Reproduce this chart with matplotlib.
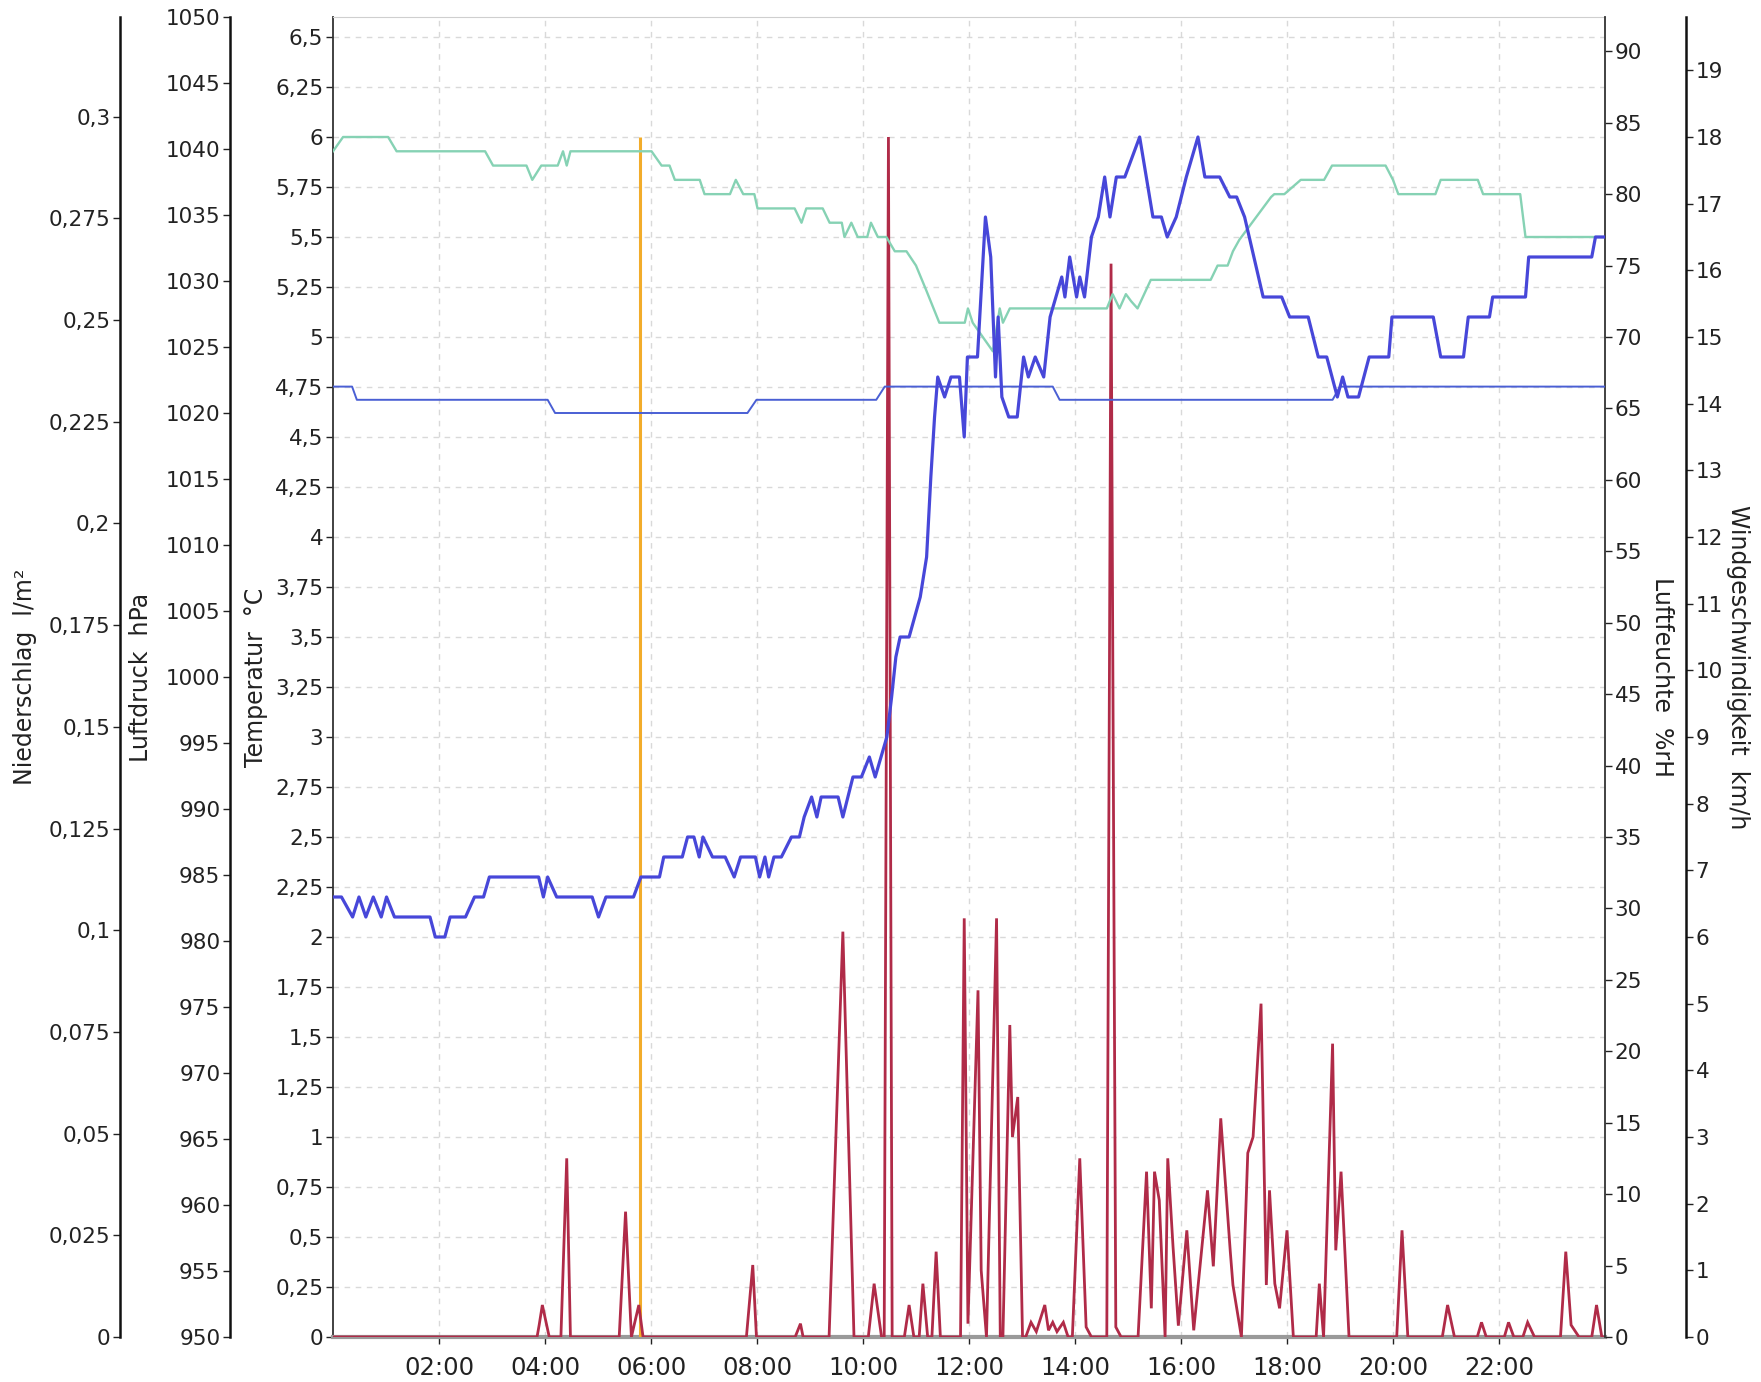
import matplotlib
matplotlib.use("Agg")
import matplotlib.pyplot as plt
from matplotlib.ticker import FixedLocator, MultipleLocator, FuncFormatter

# ---------------- data ----------------
temp_t = [0.00, 0.16, 0.37, 0.49, 0.62, 0.76, 0.91, 1.01, 1.16, 1.83, 1.93, 2.11, 2.21, 2.50,
          2.67, 2.84, 2.95, 3.88, 3.97, 4.05, 4.22, 4.89, 5.01, 5.15, 5.67, 5.81, 6.16, 6.24,
          6.59, 6.69, 6.81, 6.91, 6.98, 7.16, 7.40, 7.57, 7.69, 7.97, 8.05, 8.15, 8.22, 8.32,
          8.46, 8.65, 8.80, 8.89, 9.03, 9.13, 9.21, 9.53, 9.62, 9.81, 9.97, 10.12, 10.23, 10.45,
          10.54, 10.62, 10.70, 10.87, 11.08, 11.20, 11.28, 11.35, 11.41, 11.54, 11.66, 11.82,
          11.91, 11.97, 12.16, 12.31, 12.41, 12.50, 12.55, 12.62, 12.75, 12.91, 13.03, 13.12,
          13.25, 13.41, 13.53, 13.75, 13.81, 13.90, 14.03, 14.09, 14.18, 14.31, 14.44, 14.56,
          14.66, 14.78, 14.94, 15.22, 15.47, 15.63, 15.74, 15.91, 16.10, 16.32, 16.45, 16.73,
          16.92, 17.05, 17.20, 17.55, 17.90, 18.05, 18.40, 18.59, 18.75, 18.85, 18.95, 19.05,
          19.15, 19.35, 19.45, 19.55, 19.92, 19.98, 20.76, 20.90, 21.33, 21.42, 21.82, 21.88,
          22.50, 22.56, 23.75, 23.82, 24.00]
temp_v = [2.2, 2.2, 2.1, 2.2, 2.1, 2.2, 2.1, 2.2, 2.1, 2.1, 2.0, 2.0, 2.1, 2.1,
          2.2, 2.2, 2.3, 2.3, 2.2, 2.3, 2.2, 2.2, 2.1, 2.2, 2.2, 2.3, 2.3, 2.4,
          2.4, 2.5, 2.5, 2.4, 2.5, 2.4, 2.4, 2.3, 2.4, 2.4, 2.3, 2.4, 2.3, 2.4,
          2.4, 2.5, 2.5, 2.6, 2.7, 2.6, 2.7, 2.7, 2.6, 2.8, 2.8, 2.9, 2.8, 3.0,
          3.2, 3.4, 3.5, 3.5, 3.7, 3.9, 4.3, 4.6, 4.8, 4.7, 4.8, 4.8,
          4.5, 4.9, 4.9, 5.6, 5.4, 4.8, 5.1, 4.7, 4.6, 4.6, 4.9, 4.8,
          4.9, 4.8, 5.1, 5.3, 5.2, 5.4, 5.2, 5.3, 5.2, 5.5, 5.6, 5.8,
          5.6, 5.8, 5.8, 6.0, 5.6, 5.6, 5.5, 5.6, 5.8, 6.0, 5.8, 5.8,
          5.7, 5.7, 5.6, 5.2, 5.2, 5.1, 5.1, 4.9, 4.9, 4.8, 4.7, 4.8,
          4.7, 4.7, 4.8, 4.9, 4.9, 5.1, 5.1, 4.9, 4.9, 5.1, 5.1, 5.2,
          5.2, 5.4, 5.4, 5.5, 5.5]

pres_t = [0.00, 0.36, 0.45, 4.05, 4.19, 7.82, 7.99, 10.25, 10.41, 13.58, 13.71, 18.86, 19.00, 24.00]
pres_v = [1022, 1022, 1021, 1021, 1020, 1020, 1021, 1021, 1022, 1022, 1021, 1021, 1022, 1022]

hum_t = [0.00, 0.19, 1.04, 1.20, 2.87, 3.02, 3.65, 3.76, 3.93, 4.24, 4.34, 4.41, 4.48, 6.01,
         6.20, 6.35, 6.45, 6.92, 7.01, 7.49, 7.60, 7.74, 7.95, 8.01, 8.71, 8.84, 8.93, 9.24,
         9.37, 9.60, 9.65, 9.78, 9.90, 10.08, 10.15, 10.28, 10.44, 10.60, 10.82, 11.00, 11.19,
         11.44, 11.92, 11.98, 12.07, 12.45, 12.58, 12.64, 12.77, 14.60, 14.71, 14.84, 14.96,
         15.06, 15.18, 15.43, 16.56, 16.69, 16.88, 16.98, 17.10, 17.30, 17.50, 17.70, 17.76,
         17.95, 18.26, 18.70, 18.85, 19.86, 20.00, 20.10, 20.80, 20.90, 21.60, 21.70, 22.40,
         22.50, 24.00]
hum_v = [83, 84, 84, 83, 83, 82, 82, 81, 82, 82, 83, 82, 83, 83,
         82, 82, 81, 81, 80, 80, 81, 80, 80, 79, 79, 78, 79, 79,
         78, 78, 77, 78, 77, 77, 78, 77, 77, 76, 76, 75, 73.3,
         71, 71, 72, 71, 69, 72, 71, 72, 72, 73, 72, 73,
         72.5, 72, 74, 74, 75, 75, 76, 76.8, 77.8, 78.8, 79.8, 80,
         80, 81, 81, 82, 82, 81, 80, 80, 81, 81, 80, 80,
         77, 77]

wind_t = [0.00, 3.85, 3.89, 3.95, 4.08, 4.30, 4.41, 4.48, 5.40, 5.52, 5.63, 5.77, 5.85,
          7.80, 7.92, 7.99, 8.72, 8.82, 8.87, 9.36, 9.62, 9.83, 10.10, 10.21, 10.35,
          10.40, 10.48, 10.55, 10.78, 10.87, 10.96, 11.06, 11.13, 11.22, 11.30, 11.38, 11.46,
          11.84, 11.91, 11.98, 12.17, 12.23, 12.33, 12.52, 12.59, 12.64, 12.77, 12.82, 12.92,
          13.01, 13.07, 13.17, 13.27, 13.43, 13.50, 13.58, 13.66, 13.78, 13.87, 13.95, 14.09,
          14.21, 14.31, 14.60, 14.68, 14.77, 14.87, 15.19, 15.35, 15.44, 15.50, 15.59, 15.70,
          15.75, 15.85, 15.95, 16.11, 16.24, 16.50, 16.61, 16.75, 16.93, 16.98, 17.14, 17.26,
          17.36, 17.51, 17.61, 17.67, 17.77, 17.86, 18.00, 18.12, 18.55, 18.61, 18.69, 18.86,
          18.92, 19.02, 19.17, 20.07, 20.17, 20.28, 20.93, 21.03, 21.16, 21.59, 21.67, 21.76,
          22.10, 22.18, 22.28, 22.45, 22.54, 22.67, 23.16, 23.26, 23.36, 23.51, 23.75, 23.84,
          23.94, 24.00]
wind_v = [0, 0, 0.18, 0.48, 0, 0, 2.68, 0, 0, 1.88, 0, 0.48, 0,
          0, 1.08, 0, 0, 0.2, 0, 0, 6.08, 0, 0, 0.8, 0,
          0, 18.0, 0, 0, 0.48, 0, 0, 0.8, 0, 0, 1.28, 0,
          0, 6.28, 0.2, 5.2, 1.0, 0, 6.28, 0, 0, 4.68, 3.0, 3.6,
          0, 0, 0.22, 0.08, 0.48, 0.1, 0.22, 0.08, 0.22, 0, 0, 2.68,
          0.15, 0, 0, 16.1, 0.15, 0, 0, 2.48, 0.43, 2.48, 2.05, 0,
          2.68, 1.35, 0.17, 1.6, 0.1, 2.2, 1.06, 3.28, 1.28, 0.78, 0, 2.76,
          3.0, 5.0, 0.78, 2.2, 0.8, 0.43, 1.6, 0, 0, 0.8, 0, 4.4,
          1.3, 2.48, 0, 0, 1.6, 0, 0, 0.48, 0, 0, 0.22, 0,
          0, 0.22, 0, 0, 0.22, 0, 0, 1.28, 0.18, 0, 0, 0.48,
          0, 0]

rain_t = [5.80]
rain_v = [0.295]

x_ticks = [2, 4, 6, 8, 10, 12, 14, 16, 18, 20, 22]
x_tick_labels = ["02:00", "04:00", "06:00", "08:00", "10:00", "12:00",
                 "14:00", "16:00", "18:00", "20:00", "22:00"]
pres_range = [950, 1050]

# ---------------- styling ----------------
W, H = 1761, 1382
L, R, T, B = 333, 1605, 17, 1337
plt.rcParams['font.family'] = ['DejaVu Sans']
FS = 15.5
LFS = 17
fig = plt.figure(figsize=(W / 100, H / 100), dpi=100)
rect = [L / W, 1 - B / H, (R - L) / W, (B - T) / H]
pw = R - L


def comma(v, pos=None):
    s = f"{round(v, 4):g}"
    return s.replace('.', ',')


ax = fig.add_axes(rect)
ax.set_xlim(0, 24)
ax.set_ylim(0, 1.1 * max(temp_v))
ax.yaxis.set_major_locator(MultipleLocator(0.25))
ax.yaxis.set_major_formatter(FuncFormatter(comma))
ax.xaxis.set_major_locator(FixedLocator(x_ticks))
ax.set_xticklabels(x_tick_labels)
ax.grid(True, color='#d9d9d9', linestyle=(0, (4, 4)), linewidth=1.0)
ax.set_axisbelow(True)
ax.tick_params(axis='y', length=5, width=1, pad=2, labelsize=FS, colors='#222222')
ax.tick_params(axis='x', length=5, width=1, pad=9, labelsize=17.5, colors='#222222')
ax.spines['left'].set_color('#333333')
ax.spines['left'].set_linewidth(1.3)
ax.spines['top'].set_color('#cfcfcf')
ax.spines['right'].set_visible(False)
ax.spines['bottom'].set_color('#9a9a9a')
ax.spines['bottom'].set_linewidth(3)


def twin(side, px, ylim, locator, show=True):
    a = ax.twinx()
    a.set_ylim(*ylim)
    a.patch.set_visible(False)
    for s in a.spines.values():
        s.set_visible(False)
    if show:
        a.spines[side].set_visible(True)
        a.spines[side].set_position(('axes', (px - L) / pw))
        a.spines[side].set_linewidth(1.8)
        a.spines[side].set_color('#111111')
        if side == 'left':
            a.yaxis.tick_left()
        else:
            a.yaxis.tick_right()
        a.yaxis.set_major_locator(locator)
        a.yaxis.set_major_formatter(FuncFormatter(comma))
        a.tick_params(axis='y', length=5, width=1, pad=2, labelsize=FS, colors='#222222')
    else:
        a.set_yticks([])
    return a


ax_rain = twin('left', 120, (0, 1.1 * max(rain_v)), MultipleLocator(0.025))
ax_wind = twin('right', 1686, (0, 1.1 * max(wind_v)), MultipleLocator(1))
ax_hum = twin('right', 1605, (0, 1.1 * max(hum_v)), MultipleLocator(5))
ax_hum.spines['right'].set_linewidth(1.3)
ax_hum.spines['right'].set_color('#333333')
ax_pres = twin('left', 230, tuple(pres_range), MultipleLocator(5))
ax_temp = twin('left', 333, (0, 1.1 * max(temp_v)), None, show=False)

ax_rain.vlines(rain_t, 0, rain_v, color='#f2ac2a', linewidth=2.2)
ax_wind.plot(wind_t, wind_v, color='#b02b48', linewidth=2.0, solid_joinstyle='miter')
ax_hum.plot(hum_t, hum_v, color='#86d2b4', linewidth=1.7)
ax_pres.plot(pres_t, pres_v, color='#4a5fd4', linewidth=1.4)
ax_temp.plot(temp_t, temp_v, color='#4747d9', linewidth=2.3)

ly = 1 - 677 / H
fig.text(25 / W, ly, "Niederschlag  l/m²", rotation=90, ha='center', va='center', fontsize=LFS, color='#222222')
fig.text(141 / W, ly, "Luftdruck  hPa", rotation=90, ha='center', va='center', fontsize=LFS, color='#222222')
fig.text(256 / W, ly, "Temperatur  °C", rotation=90, ha='center', va='center', fontsize=LFS, color='#222222')
fig.text(1662 / W, ly, "Luftfeuchte  %rH", rotation=-90, ha='center', va='center', fontsize=LFS, color='#222222')
fig.text(1738 / W, 1 - 667 / H, "Windgeschwindigkeit  km/h", rotation=-90, ha='center', va='center', fontsize=LFS, color='#222222')

fig.savefig("out.png", dpi=100, facecolor='white')
